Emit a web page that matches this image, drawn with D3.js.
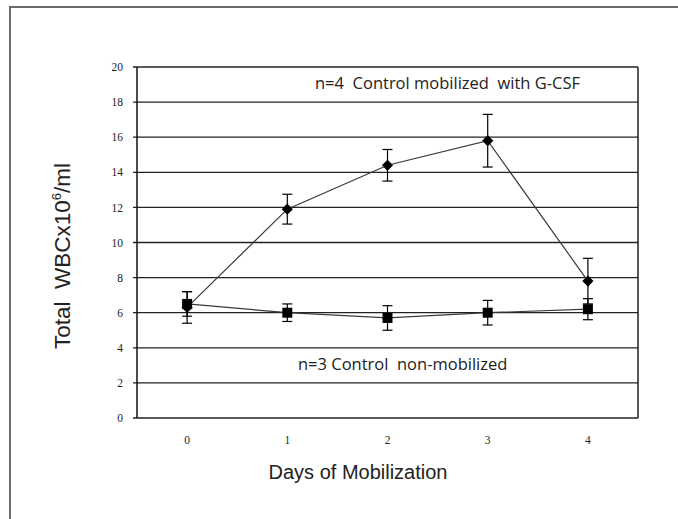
<!DOCTYPE html>
<html>
<head>
  <meta charset="UTF-8">
  <title>WBC mobilization</title>
  <style>
    body { margin: 0; background: #fff; }
  </style>
</head>
<body>
  <script src="https://cdn.jsdelivr.net/npm/d3@7"></script>
  <script>
    const width = 678,
      height = 519

    // data
    const days = ['0', '1', '2', '3', '4']
    const mobilized = [6.3, 11.9, 14.4, 15.8, 7.8]
    const mobilizedErr = [0.9, 0.85, 0.9, 1.5, 1.3]
    const nonMobilized = [6.5, 6.0, 5.7, 6.0, 6.2]
    const nonMobilizedErr = [0.7, 0.5, 0.7, 0.7, 0.6]
    const yTicks = [0, 2, 4, 6, 8, 10, 12, 14, 16, 18, 20]

    const margin = { top: 67, right: 40, bottom: 101, left: 137 }

    const svg = d3.select('body')
      .append('svg')
      .attr('width', width)
      .attr('height', height)

    // outer frame (only left and top visible)
    svg.append('rect')
      .attr('x', 10).attr('y', 7)
      .attr('width', 700).attr('height', 540)
      .attr('fill', 'none')
      .attr('stroke', '#6b6b6b')
      .attr('stroke-width', 2)

    const xScale = d3.scaleBand()
      .domain(days)
      .range([margin.left, width - margin.right])

    const yScale = d3.scaleLinear()
      .domain([0, 20])
      .range([height - margin.bottom, margin.top])

    const cx = d => xScale(d) + xScale.bandwidth() / 2

    // grid lines
    svg.append('g')
      .selectAll('line')
      .data(yTicks)
      .enter()
      .append('line')
      .attr('x1', margin.left - 4)
      .attr('x2', width - margin.right)
      .attr('y1', d => yScale(d))
      .attr('y2', d => yScale(d))
      .attr('stroke', '#222')
      .attr('stroke-width', 1.3)

    // plot border sides
    svg.append('line')
      .attr('x1', margin.left).attr('x2', margin.left)
      .attr('y1', yScale(20)).attr('y2', yScale(0))
      .attr('stroke', '#111').attr('stroke-width', 1.5)
    svg.append('line')
      .attr('x1', width - margin.right).attr('x2', width - margin.right)
      .attr('y1', yScale(20)).attr('y2', yScale(0))
      .attr('stroke', '#222').attr('stroke-width', 1.5)

    // y axis labels
    const yAxis = d3.axisLeft(yScale)
      .tickValues(yTicks)
      .tickSize(0)
      .tickPadding(14)
    const gy = svg.append('g')
      .attr('transform', `translate(${margin.left},0)`)
      .call(yAxis)
    gy.select('.domain').remove()
    gy.attr('font-family', '"Liberation Serif", "Times New Roman", serif')
      .attr('font-size', 11.5)
    gy.selectAll('text').attr('fill', '#222')

    // x axis labels
    const xAxis = d3.axisBottom(xScale).tickSize(0).tickPadding(18)
    const gx = svg.append('g')
      .attr('transform', `translate(0,${yScale(0)})`)
      .call(xAxis)
    gx.select('.domain').remove()
    gx.attr('font-family', '"Liberation Serif", "Times New Roman", serif')
      .attr('font-size', 11.5)
    gx.selectAll('text').attr('fill', '#222')

    const line = d3.line()
      .x((d, i) => cx(days[i]))
      .y(d => yScale(d))

    function drawSeries(values, errs, shape, size) {
      const g = svg.append('g')
      g.append('path')
        .datum(values)
        .attr('d', line)
        .attr('fill', 'none')
        .attr('stroke', '#3a3a3a')
        .attr('stroke-width', 1.2)

      const eb = g.selectAll('g.err')
        .data(values)
        .enter()
        .append('g')
        .attr('class', 'err')
      eb.append('line')
        .attr('x1', (d, i) => cx(days[i])).attr('x2', (d, i) => cx(days[i]))
        .attr('y1', (d, i) => yScale(d + errs[i]))
        .attr('y2', (d, i) => yScale(d - errs[i]))
        .attr('stroke', '#000').attr('stroke-width', 1.2)
      ;[1, -1].forEach(s => {
        eb.append('line')
          .attr('x1', (d, i) => cx(days[i]) - 5).attr('x2', (d, i) => cx(days[i]) + 5)
          .attr('y1', (d, i) => yScale(d + s * errs[i]))
          .attr('y2', (d, i) => yScale(d + s * errs[i]))
          .attr('stroke', '#000').attr('stroke-width', 1.2)
      })

      g.selectAll('path.mark')
        .data(values)
        .enter()
        .append('path')
        .attr('class', 'mark')
        .attr('d', d3.symbol().type(shape).size(size))
        .attr('transform', (d, i) => `translate(${cx(days[i])},${yScale(d)})`)
        .attr('fill', '#000')
    }

    drawSeries(mobilized, mobilizedErr, d3.symbolDiamond2, 80)
    drawSeries(nonMobilized, nonMobilizedErr, d3.symbolSquare, 100)

    // annotations
    const noteFont = '"Open Sans", "Noto Sans", sans-serif'
    svg.append('text')
      .attr('x', 315).attr('y', 89)
      .attr('font-family', noteFont)
      .attr('font-size', 16.5)
      .attr('fill', '#222')
      .attr('xml:space', 'preserve')
      .text('n=4  Control mobilized  with G-CSF')
    svg.append('text')
      .attr('x', 298).attr('y', 370)
      .attr('font-family', noteFont)
      .attr('font-size', 16.5)
      .attr('fill', '#222')
      .attr('xml:space', 'preserve')
      .text('n=3 Control  non-mobilized')

    // axis titles
    const titleFont = '"Liberation Sans", Arial, sans-serif'
    svg.append('text')
      .attr('x', 358)
      .attr('y', 479)
      .attr('text-anchor', 'middle')
      .attr('font-family', titleFont)
      .attr('font-size', 20)
      .attr('fill', '#222')
      .text('Days of Mobilization')

    const yt = svg.append('text')
      .attr('transform', 'translate(70,256) rotate(-90)')
      .attr('text-anchor', 'middle')
      .attr('font-family', titleFont)
      .attr('font-size', 22.5)
      .attr('fill', '#222')
      .attr('xml:space', 'preserve')
    yt.append('tspan').text('Total  WBCx10')
    yt.append('tspan').attr('font-size', 13).attr('dy', -9).text('6')
    yt.append('tspan').attr('dy', 9).text('/ml')
  </script>
</body>
</html>
